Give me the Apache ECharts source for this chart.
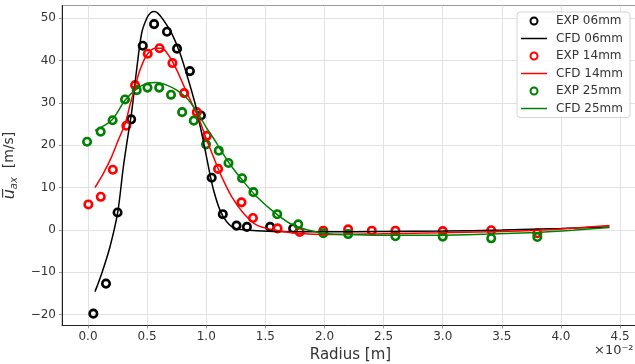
<!DOCTYPE html>
<html>
<head>
<meta charset="utf-8">
<script src="https://cdn.jsdelivr.net/npm/echarts@6/dist/echarts.min.js"></script>
<style>
  html, body { margin: 0; padding: 0; background: #fff; }
  #chart { width: 635px; height: 364px; }
</style>
</head>
<body>
<div id="chart"></div>
<script>
// Axis ticks
const xTicks = [0, 0.5, 1.0, 1.5, 2.0, 2.5, 3.0, 3.5, 4.0, 4.5];
const yTicks = [-20, -10, 0, 10, 20, 30, 40, 50];

// Measured axial velocity, 06 mm
const exp06R = [0.045, 0.152, 0.25, 0.365, 0.463, 0.559, 0.668, 0.753, 0.862, 0.955, 1.046, 1.14, 1.256, 1.344, 1.54, 1.735];
const exp06U = [-19.8, -12.7, 4.1, 26.1, 43.5, 48.6, 46.8, 42.8, 37.5, 27.0, 12.3, 3.7, 1.0, 0.7, 0.7, 0.3];

// CFD, 06 mm
const cfd06R = [0.059, 0.116, 0.186, 0.251, 0.299, 0.341, 0.37, 0.412, 0.454, 0.497, 0.53, 0.56, 0.59, 0.637, 0.708, 0.778, 0.849, 0.905, 0.933, 0.976, 1.018, 1.06, 1.117, 1.173, 1.244, 1.427, 1.71, 2.0, 2.5, 3.0, 3.5, 4.0, 4.41];
const cfd06U = [-14.6, -10.3, -4.0, 4.1, 14.9, 22.8, 28.0, 38.0, 46.5, 50.0, 51.3, 51.6, 51.2, 49.6, 46.4, 41.7, 35.4, 29.9, 26.5, 20.9, 15.0, 9.6, 4.6, 1.9, 0.35, -0.2, -0.45, -0.45, -0.4, -0.3, -0.05, 0.3, 0.7];

// Measured axial velocity, 14 mm
const exp14R = [0.003, 0.108, 0.21, 0.324, 0.398, 0.505, 0.605, 0.714, 0.813, 0.92, 1.005, 1.1, 1.298, 1.395, 1.603, 1.79, 1.99, 2.2, 2.4, 2.6, 3.0, 3.41, 3.8];
const exp14U = [6.0, 7.8, 14.2, 24.6, 34.2, 41.6, 42.9, 39.4, 32.3, 27.8, 22.2, 14.4, 6.5, 2.8, 0.35, -0.5, -0.2, 0.1, -0.2, -0.2, -0.3, -0.1, -0.8];

// CFD, 14 mm
const cfd14R = [0.059, 0.129, 0.2, 0.256, 0.313, 0.355, 0.4, 0.44, 0.497, 0.567, 0.623, 0.68, 0.75, 0.82, 0.891, 0.947, 1.004, 1.06, 1.131, 1.216, 1.315, 1.427, 1.568, 1.765, 2.05, 2.5, 3.0, 3.4, 3.8, 4.1, 4.41];
const cfd14U = [10.0, 13.3, 17.3, 21.2, 25.0, 29.5, 34.0, 37.8, 41.3, 42.9, 42.9, 41.3, 37.8, 33.4, 29.1, 25.6, 21.2, 17.3, 12.5, 7.8, 3.9, 1.1, 0.0, -0.8, -1.1, -0.9, -0.7, -0.45, -0.1, 0.4, 1.0];

// Measured axial velocity, 25 mm
const exp25R = [-0.008, 0.107, 0.208, 0.313, 0.412, 0.503, 0.602, 0.702, 0.796, 0.895, 0.998, 1.106, 1.188, 1.303, 1.399, 1.6, 1.778, 1.99, 2.2, 2.6, 3.0, 3.41, 3.8];
const exp25U = [20.8, 23.2, 25.9, 30.8, 33.0, 33.6, 33.6, 31.9, 27.8, 25.8, 20.2, 18.7, 15.8, 12.2, 8.9, 3.7, 1.3, -0.8, -1.0, -1.5, -1.6, -2.0, -1.7];

// CFD, 25 mm
const cfd25R = [0.059, 0.2, 0.313, 0.412, 0.497, 0.581, 0.666, 0.75, 0.835, 0.905, 0.95, 1.004, 1.06, 1.102, 1.201, 1.315, 1.427, 1.568, 1.709, 1.85, 2.05, 2.27, 2.6, 3.0, 3.4, 3.8, 4.1, 4.41];
const cfd25U = [23.5, 25.9, 30.6, 33.3, 34.6, 34.8, 34.2, 33.0, 31.1, 28.6, 26.6, 24.0, 21.7, 19.8, 15.5, 11.4, 7.8, 4.3, 1.5, 0.0, -1.0, -1.15, -1.3, -1.25, -1.0, -0.6, -0.1, 0.55];

const FONT = 'DejaVu Sans';
const TEXT = '#333';
const LINE_ICON = 'path://M0,0 L26,0 L26,1.5 L0,1.5 Z';

const pairs = (xs, ys) => xs.map((x, i) => [x, ys[i]]);

function expSeries(name, color, xs, ys) {
  return {
    name, type: 'scatter', data: pairs(xs, ys),
    symbol: 'circle', symbolSize: 7.5,
    itemStyle: { color: 'rgba(255,255,255,0)', borderColor: color, borderWidth: 2.6, opacity: 1 },
    emphasis: { disabled: true }, silent: true
  };
}
function cfdSeries(name, color, xs, ys) {
  return {
    name, type: 'line', data: pairs(xs, ys),
    symbol: 'none', showSymbol: false, smooth: 0.3,
    lineStyle: { color, width: 1.5 }, itemStyle: { color },
    emphasis: { disabled: true }, silent: true
  };
}

const chart = echarts.init(document.getElementById('chart'), null, { renderer: 'canvas' });
chart.setOption({
  animation: false,
  backgroundColor: '#fff',
  grid: {
    left: 62, right: -4, top: 5.5, bottom: 38.5,
    outerBoundsMode: 'none',
    show: true, borderColor: '#9a9a9a', borderWidth: 1, backgroundColor: 'transparent'
  },
  legend: {
    orient: 'vertical', right: 5, top: 12,
    itemWidth: 26, itemHeight: 7, itemGap: 3.5,
    padding: [2, 7, 2, 4],
    backgroundColor: 'rgba(255,255,255,0.85)',
    borderColor: '#d4d4d4', borderWidth: 1, borderRadius: 3,
    selectedMode: false,
    textStyle: { fontFamily: FONT, fontSize: 12, color: TEXT, lineHeight: 14, padding: [0, 0, 0, 4] },
    data: [
      { name: 'EXP 06mm' }, { name: 'CFD 06mm', icon: LINE_ICON },
      { name: 'EXP 14mm' }, { name: 'CFD 14mm', icon: LINE_ICON },
      { name: 'EXP 25mm' }, { name: 'CFD 25mm', icon: LINE_ICON }
    ]
  },
  xAxis: {
    type: 'value', min: -0.22, max: 4.66,
    axisLine: { show: true, onZero: false, lineStyle: { color: '#222', width: 1 } },
    axisTick: { show: true, length: 3, lineStyle: { color: '#999' }, customValues: xTicks },
    axisLabel: {
      customValues: xTicks, formatter: v => v.toFixed(1),
      fontFamily: FONT, fontSize: 12, color: TEXT, margin: 5
    },
    splitLine: { show: true, customValues: xTicks, lineStyle: { color: '#e2e2e2', width: 1 } },
    name: 'Radius [m]', nameLocation: 'middle', nameGap: 18,
    nameTextStyle: { fontFamily: FONT, fontSize: 15, color: TEXT }
  },
  yAxis: {
    type: 'value', min: -22.6, max: 53.0,
    axisLine: { show: true, onZero: false, lineStyle: { color: '#222', width: 1 } },
    axisTick: { show: true, length: 3, lineStyle: { color: '#999' }, customValues: yTicks },
    axisLabel: {
      customValues: yTicks, formatter: v => String(v).replace('-', '\u2212'),
      fontFamily: FONT, fontSize: 12, color: TEXT, margin: 6
    },
    splitLine: { show: true, customValues: yTicks, lineStyle: { color: '#e2e2e2', width: 1 } },
    name: '{u|u\u0305}{s|ax}{t|  [m/s]}',
    nameLocation: 'middle', nameRotate: 90, nameGap: 32,
    nameTextStyle: {
      fontFamily: FONT, color: TEXT,
      rich: {
        u: { fontFamily: FONT, fontSize: 16, fontStyle: 'italic', color: TEXT, lineHeight: 20 },
        s: { fontFamily: FONT, fontSize: 10, fontStyle: 'italic', color: TEXT, lineHeight: 12, verticalAlign: 'bottom' },
        t: { fontFamily: FONT, fontSize: 14, color: TEXT, lineHeight: 20 }
      }
    }
  },
  graphic: [{
    type: 'text', left: 594, top: 344, silent: true,
    style: { text: '\u00d710\u207b\u00b2', font: '13px "DejaVu Sans"', fill: TEXT }
  }],
  series: [
    expSeries('EXP 06mm', '#000000', exp06R, exp06U),
    cfdSeries('CFD 06mm', '#000000', cfd06R, cfd06U),
    expSeries('EXP 14mm', '#ff0000', exp14R, exp14U),
    cfdSeries('CFD 14mm', '#ff0000', cfd14R, cfd14U),
    expSeries('EXP 25mm', '#008000', exp25R, exp25U),
    cfdSeries('CFD 25mm', '#008000', cfd25R, cfd25U)
  ]
});
</script>
</body>
</html>
